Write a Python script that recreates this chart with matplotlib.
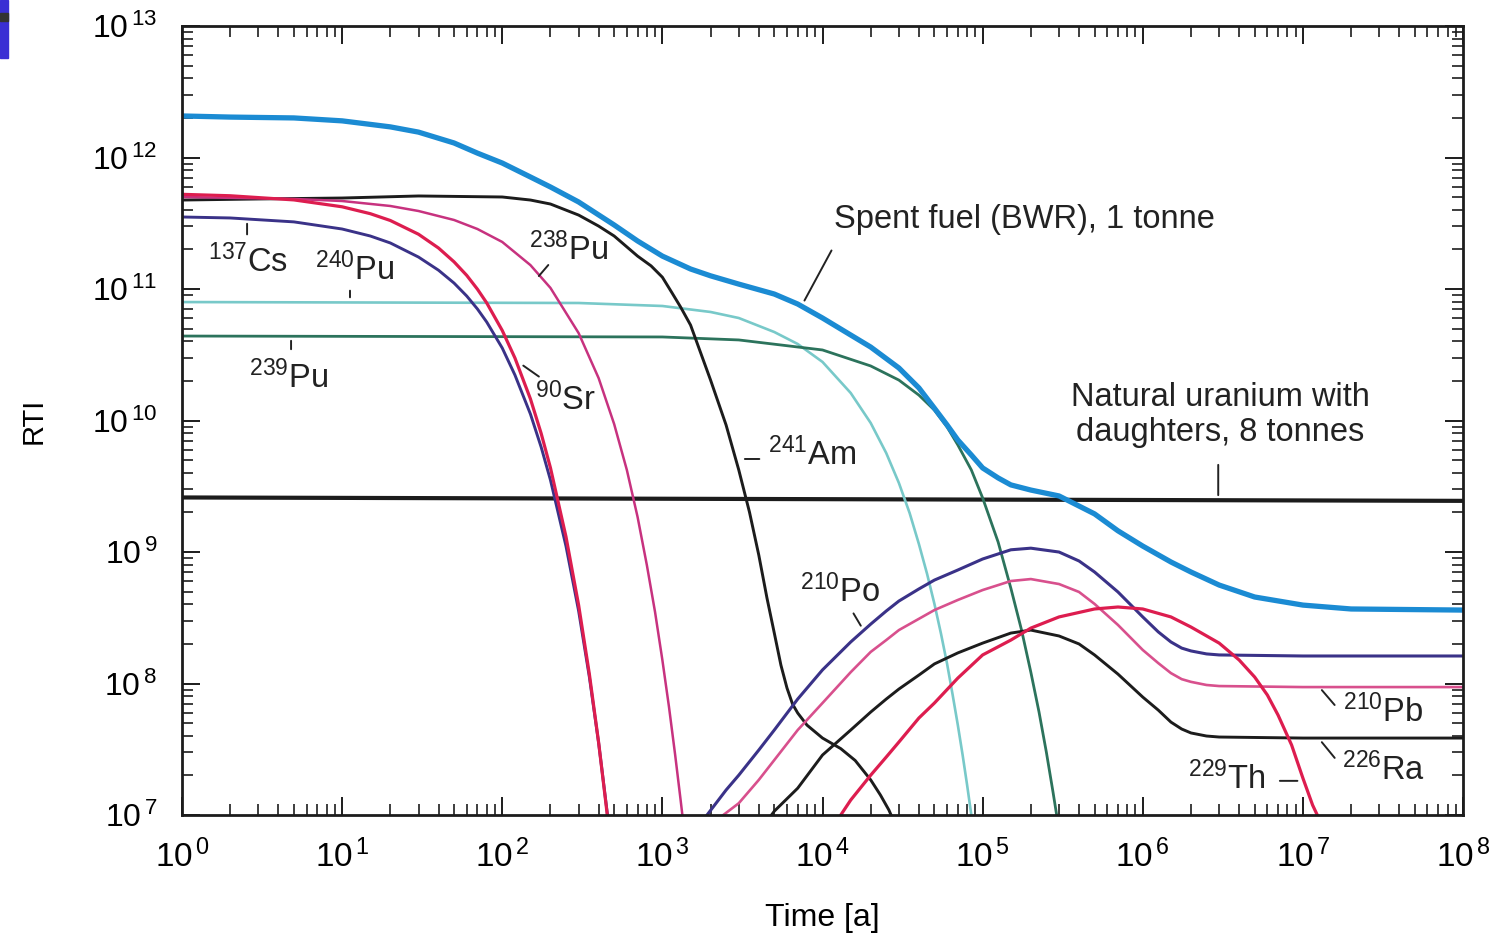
import matplotlib
matplotlib.use('Agg')
import matplotlib.pyplot as plt
from matplotlib.ticker import FixedLocator, FuncFormatter, NullFormatter
from matplotlib.patches import Rectangle
import numpy as np

plt.rcParams['font.family'] = ['Liberation Sans', 'DejaVu Sans']
plt.rcParams['mathtext.fontset'] = 'custom'
plt.rcParams['mathtext.rm'] = 'Liberation Sans'
plt.rcParams['mathtext.it'] = 'Liberation Sans:italic'
plt.rcParams['mathtext.bf'] = 'Liberation Sans:bold'

# time [years] and RTI
t_spent = [1, 2, 5, 10, 20, 30, 50, 70, 100, 150, 200, 300, 500, 700, 1e3, 1.5e3, 2e3, 3e3,
           5e3, 7e3, 1e4, 1.5e4, 2e4, 3e4, 4e4, 5e4, 6e4, 7e4, 8.5e4, 1e5, 1.25e5, 1.5e5, 2e5,
           3e5, 5e5, 7e5, 1e6, 1.5e6, 2e6, 3e6, 5e6, 1e7, 2e7, 1e8]
rti_spent = [2.07e12, 2.03e12, 2.00e12, 1.90e12, 1.71e12, 1.56e12, 1.29e12, 1.08e12, 9.08e11,
             7.11e11, 5.97e11, 4.59e11, 3.07e11, 2.32e11, 1.78e11, 1.42e11, 1.26e11, 1.09e11,
             9.16e10, 7.69e10, 6.02e10, 4.47e10, 3.62e10, 2.51e10, 1.77e10, 1.24e10, 9.24e9,
             7.11e9, 5.47e9, 4.36e9, 3.66e9, 3.24e9, 2.96e9, 2.67e9, 1.95e9, 1.45e9, 1.11e9,
             8.40e8, 7.05e8, 5.61e8, 4.55e8, 3.95e8, 3.69e8, 3.62e8]

t_unat = [1, 1e8]
rti_unat = [2.6e9, 2.45e9]

t_cs137 = [1, 2, 5, 10, 15, 20, 30, 40, 50, 60, 70, 80, 100, 120, 150, 175, 200, 250, 300,
           350, 400, 460]
rti_cs137 = [3.53e11, 3.47e11, 3.24e11, 2.86e11, 2.53e11, 2.24e11, 1.75e11, 1.39e11, 1.11e11,
             8.85e10, 7.05e10, 5.61e10, 3.56e10, 2.22e10, 1.12e10, 6.28e9, 3.53e9, 1.11e9,
             3.56e8, 1.12e8, 3.53e7, 8.85e6]

t_sr90 = [1, 2, 5, 10, 15, 20, 30, 40, 50, 60, 70, 80, 100, 120, 150, 175, 200, 250, 300,
          350, 400, 450, 460]
rti_sr90 = [5.25e11, 5.12e11, 4.76e11, 4.22e11, 3.74e11, 3.32e11, 2.61e11, 2.05e11, 1.61e11,
            1.27e11, 9.97e10, 7.84e10, 4.84e10, 2.99e10, 1.46e10, 7.98e9, 4.37e9, 1.31e9,
            3.94e8, 1.18e8, 3.55e7, 1.07e7, 8.3e6]

t_pu238 = [1, 5, 10, 20, 30, 50, 70, 100, 150, 200, 300, 400, 500, 600, 700, 800, 900, 1000,
           1100, 1200, 1300, 1340]
rti_pu238 = [5.01e11, 4.84e11, 4.67e11, 4.28e11, 3.92e11, 3.35e11, 2.86e11, 2.28e11, 1.52e11,
             1.02e11, 4.62e10, 2.10e10, 9.39e9, 4.21e9, 1.85e9, 7.96e8, 3.50e8, 1.51e8,
             6.63e7, 2.91e7, 1.30e7, 9.5e6]

t_am241 = [1, 3, 10, 30, 100, 150, 200, 300, 400, 500, 700, 850, 1000, 1150, 1300, 1500, 2000,
           2500, 3000, 3500, 4000, 4500, 5000, 5500, 6000, 6500, 7000, 8000, 1e4, 1.3e4, 1.6e4,
           2e4, 2.3e4, 2.6e4, 2.8e4]
rti_am241 = [4.75e11, 4.84e11, 4.92e11, 5.10e11, 5.01e11, 4.75e11, 4.43e11, 3.65e11, 3.01e11,
             2.53e11, 1.78e11, 1.50e11, 1.23e11, 9.33e10, 7.29e10, 5.32e10, 2.03e10, 9.24e9,
             4.21e9, 2.01e9, 9.49e8, 4.47e8, 2.42e8, 1.38e8, 9.25e7, 6.98e7, 5.97e7, 4.83e7,
             3.85e7, 3.20e7, 2.60e7, 1.85e7, 1.42e7, 1.09e7, 8.85e6]

t_pu240 = [1, 300, 1000, 2000, 3000, 5000, 7000, 1e4, 1.5e4, 2e4, 2.5e4, 3e4, 3.5e4, 4e4, 4.5e4,
           5e4, 5.5e4, 6e4, 6.5e4, 7e4, 7.5e4, 8e4, 8.5e4]
rti_pu240 = [7.96e10, 7.83e10, 7.43e10, 6.69e10, 6.02e10, 4.71e10, 3.82e10, 2.79e10, 1.62e10,
             9.58e9, 5.66e9, 3.35e9, 1.98e9, 1.15e9, 6.81e8, 4.03e8, 2.38e8, 1.41e8, 8.18e7,
             4.83e7, 2.86e7, 1.69e7, 1.0e7]

t_pu239 = [1, 1000, 3000, 1e4, 2e4, 3e4, 4e4, 5e4, 6e4, 7e4, 8.5e4, 1e5, 1.25e5, 1.5e5, 1.75e5,
           2e5, 2.25e5, 2.5e5, 2.75e5, 2.9e5]
rti_pu239 = [4.39e10, 4.32e10, 4.10e10, 3.44e10, 2.60e10, 2.03e10, 1.56e10, 1.20e10, 8.93e9,
             6.52e9, 4.21e9, 2.58e9, 1.19e9, 5.32e8, 2.55e8, 1.22e8, 6.07e7, 3.01e7, 1.50e7,
             1.0e7]

t_po210 = [1.9e3, 2.5e3, 3e3, 4e3, 5e3, 7e3, 1e4, 1.5e4, 2e4, 2.5e4, 3e4, 4e4, 5e4, 7e4, 1e5,
           1.5e5, 2e5, 3e5, 4e5, 5e5, 7e5, 1e6, 1.25e6, 1.5e6, 1.75e6, 2e6, 2.5e6, 3e6, 1e7, 1e8]
rti_po210 = [1.0e7, 1.55e7, 2.01e7, 3.12e7, 4.43e7, 7.62e7, 1.27e8, 2.07e8, 2.83e8, 3.56e8,
             4.24e8, 5.24e8, 6.12e8, 7.30e8, 8.85e8, 1.04e9, 1.07e9, 1.0e9, 8.55e8, 7.05e8,
             4.97e8, 3.21e8, 2.47e8, 2.07e8, 1.86e8, 1.77e8, 1.68e8, 1.65e8, 1.62e8, 1.62e8]

t_pb210 = [2.4e3, 3e3, 4e3, 5e3, 7e3, 1e4, 1.5e4, 2e4, 2.5e4, 3e4, 5e4, 7e4, 1e5, 1.5e5, 2e5,
           3e5, 4e5, 5e5, 7e5, 1e6, 1.25e6, 1.5e6, 1.75e6, 2e6, 2.5e6, 3e6, 1e7, 1e8]
rti_pb210 = [1.0e7, 1.23e7, 1.85e7, 2.62e7, 4.43e7, 7.11e7, 1.22e8, 1.74e8, 2.14e8, 2.55e8,
             3.62e8, 4.32e8, 5.14e8, 6.02e8, 6.23e8, 5.71e8, 4.97e8, 4.03e8, 2.79e8, 1.80e8,
             1.43e8, 1.20e8, 1.08e8, 1.03e8, 9.75e7, 9.57e7, 9.40e7, 9.40e7]

t_ra226 = [4.8e3, 5e3, 7e3, 1e4, 1.5e4, 2e4, 2.5e4, 3e4, 4e4, 5e4, 7e4, 1e5, 1.5e5, 2e5, 3e5,
           4e5, 5e5, 7e5, 1e6, 1.25e6, 1.5e6, 1.75e6, 2e6, 2.5e6, 3e6, 1e7, 1e8]
rti_ra226 = [1.0e7, 1.07e7, 1.60e7, 2.86e7, 4.43e7, 6.07e7, 7.62e7, 9.08e7, 1.16e8, 1.41e8,
             1.71e8, 2.03e8, 2.42e8, 2.55e8, 2.30e8, 2.00e8, 1.65e8, 1.18e8, 7.89e7, 6.28e7,
             5.09e7, 4.51e7, 4.21e7, 3.99e7, 3.92e7, 3.85e7, 3.85e7]

t_th229 = [1.3e4, 1.5e4, 2e4, 2.5e4, 3e4, 4e4, 5e4, 7e4, 1e5, 1.5e5, 2e5, 3e5, 5e5, 7e5, 1e6,
           1.5e6, 2e6, 3e6, 4e6, 5e6, 6e6, 7e6, 8.5e6, 1e7, 1.15e7, 1.23e7]
rti_th229 = [1.0e7, 1.30e7, 2.01e7, 2.76e7, 3.59e7, 5.47e7, 7.11e7, 1.10e8, 1.65e8, 2.14e8,
             2.64e8, 3.21e8, 3.69e8, 3.82e8, 3.69e8, 3.21e8, 2.69e8, 2.03e8, 1.51e8, 1.12e8,
             8.18e7, 5.75e7, 3.41e7, 1.91e7, 1.19e7, 1.0e7]

# decade exponents shown on the axes
x_decades = list(range(0, 9))
y_decades = list(range(7, 14))

BLUE = '#1b8bd3'
CYAN = '#78c9c9'
GREEN = '#2c735c'
NAVY = '#3a3288'
CRIMSON = '#dd1d4f'
MAGENTA = '#c7327f'
PINK = '#d8508d'
BLACK = '#1c1c1c'

fig = plt.figure(figsize=(14.99, 9.39), dpi=100)
ax = fig.add_axes([0.1214, 0.132, 0.8546, 0.8403])

ax.plot(t_unat, rti_unat, color=BLACK, lw=3.0)
ax.plot(t_pu240, rti_pu240, color=CYAN, lw=1.9)
ax.plot(t_pu239, rti_pu239, color=GREEN, lw=2.0)
ax.plot(t_am241, rti_am241, color=BLACK, lw=2.1)
ax.plot(t_pu238, rti_pu238, color=MAGENTA, lw=1.8)
ax.plot(t_cs137, rti_cs137, color=NAVY, lw=2.1)
ax.plot(t_sr90, rti_sr90, color=CRIMSON, lw=2.3)
ax.plot(t_ra226, rti_ra226, color=BLACK, lw=2.1)
ax.plot(t_pb210, rti_pb210, color=PINK, lw=1.9)
ax.plot(t_po210, rti_po210, color=NAVY, lw=2.2)
ax.plot(t_th229, rti_th229, color=CRIMSON, lw=2.3)
ax.plot(t_spent, rti_spent, color=BLUE, lw=3.8)

ax.set_xscale('log')
ax.set_yscale('log')
ax.set_xlim(1, 1e8)
ax.set_ylim(1e7, 1e13)

# only ticks inside the visible range
for axis, decs in ((ax.xaxis, x_decades), (ax.yaxis, y_decades)):
    major = [10.0 ** d for d in decs]
    minor = [m * 10.0 ** d for d in decs[:-1] for m in range(2, 10)]
    axis.set_major_locator(FixedLocator(major))
    axis.set_minor_locator(FixedLocator(minor))
    axis.set_minor_formatter(NullFormatter())
    axis.set_major_formatter(FuncFormatter(lambda v, p: r'$10^{\,%d}$' % round(np.log10(v))))

ax.tick_params(which='both', direction='in', top=True, right=True, color=BLACK)
ax.tick_params(which='major', length=13, width=1.4)
ax.tick_params(which='minor', length=8, width=1.2)
ax.tick_params(axis='x', labelsize=24, pad=18)
ax.tick_params(axis='y', labelsize=23, pad=18)
for s in ax.spines.values():
    s.set_linewidth(2.0)
    s.set_color(BLACK)

ax.set_xlabel('Time [a]', fontsize=23)
ax.set_ylabel('RTI', fontsize=21)
ax.xaxis.set_label_coords(0.5, -0.111)
ax.yaxis.set_label_coords(-0.1046, 0.5)

# labels with short leader lines
def note(txt, pos, a=None, b=None):
    ax.text(pos[0], pos[1], txt, fontsize=23.5, ha='center', va='center', color='#222222')
    if a is not None:
        ax.annotate('', xy=a, xytext=b, arrowprops=dict(arrowstyle='-', color='#222222', lw=1.4))

note(r'$^{137}$Cs', (2.58, 1.60e11), (2.55, 3.29e11), (2.55, 2.48e11))
note(r'$^{240}$Pu', (11.9, 1.39e11), (11.2, 1.02e11), (11.2, 8.24e10))
note(r'$^{239}$Pu', (4.66, 2.10e10), (4.80, 4.24e10), (4.80, 3.32e10))
note(r'$^{238}$Pu', (258, 1.98e11), (199, 1.58e11), (165, 1.21e11))
note(r'$^{90}$Sr', (247, 1.43e10), (175, 2.10e10), (131, 2.69e10))
note(r'$^{241}$Am', (8610, 5.47e9), (3147, 5.10e9), (4197, 5.10e9))
note('Spent fuel (BWR), 1 tonne', (1.82e5, 3.35e11), (1.16e4, 2.05e11), (7.57e3, 7.83e10))
note('Natural uranium with\ndaughters, 8 tonnes', (3.04e6, 1.10e10), (2.96e6, 4.83e9), (2.96e6, 2.58e9))
note(r'$^{210}$Po', (1.29e4, 4.97e8), (1.53e4, 3.56e8), (1.77e4, 2.64e8))
note(r'$^{210}$Pb', (3.17e7, 6.07e7), (1.28e7, 9.25e7), (1.62e7, 6.62e7))
note(r'$^{226}$Ra', (3.17e7, 2.20e7), (1.28e7, 3.72e7), (1.62e7, 2.62e7))
note(r'$^{229}$Th', (3.32e6, 1.88e7), (6.90e6, 1.82e7), (9.62e6, 1.82e7))

# slide corner marker
fig.patches.append(Rectangle((0, 1 - 58 / 939), 8 / 1499, 58 / 939, transform=fig.transFigure,
                             color='#3a2fd4'))
fig.patches.append(Rectangle((0, 1 - 21 / 939), 8 / 1499, 8 / 939, transform=fig.transFigure,
                             color='#333333'))

fig.savefig('out.png', dpi=100)
